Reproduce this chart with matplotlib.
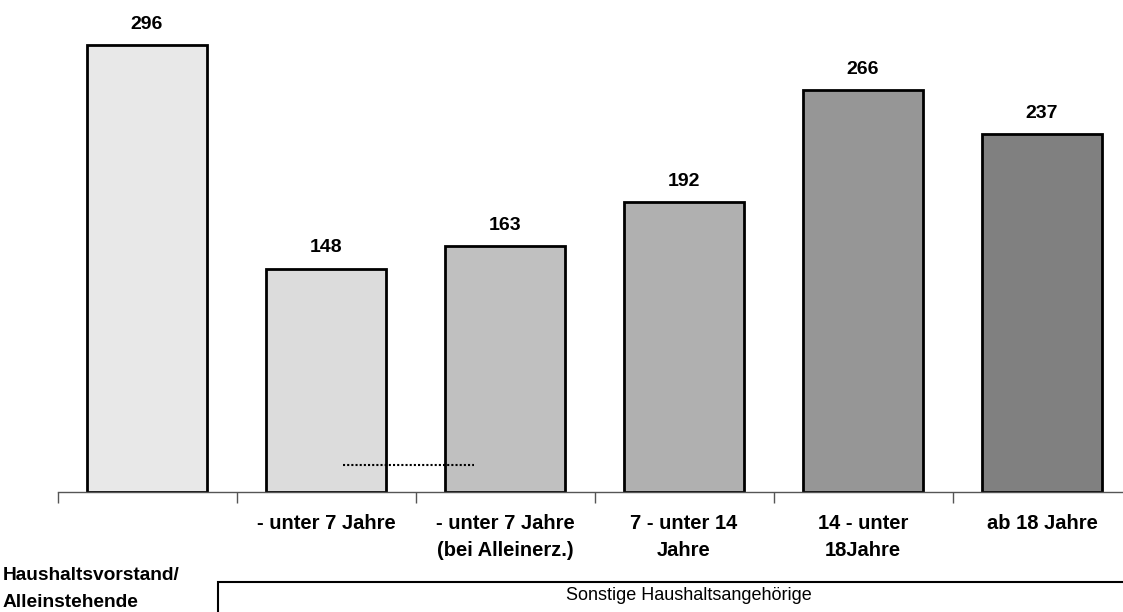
import matplotlib
matplotlib.use("Agg")
import matplotlib.pyplot as plt
from matplotlib.patches import Rectangle

plt.rcParams['font.family'] = ['Liberation Sans', 'DejaVu Sans']

# Bedarf je Haushaltsmitglied
categories = ["", "- unter 7 Jahre", "- unter 7 Jahre\n(bei Alleinerz.)",
              "7 - unter 14\nJahre", "14 - unter\n18Jahre", "ab 18 Jahre"]
values = [296, 148, 163, 192, 266, 237]
bar_colors = ["#E8E8E8", "#DCDCDC", "#C0C0C0", "#B0B0B0", "#969696", "#808080"]

W, H = 1123, 612
fig = plt.figure(figsize=(W / 100, H / 100), dpi=100)

# axes spans from x=57.5 px to past the right edge, baseline at y=492 px
ax = fig.add_axes([57.5 / W, (H - 492) / H, 1074 / W, 492 / H])
x = range(len(values))
ax.bar(x, values, width=120 / 179, color=bar_colors, edgecolor="black", linewidth=2, zorder=2)
ax.set_xlim(-0.5, len(values) - 0.5)
ax.set_ylim(0, 492 / 1.51)

for xi, v in zip(x, values):
    ax.text(xi, v + 8, str(v), ha="center", va="bottom", fontsize=14, fontweight="bold")

# dotted reference line between the two "unter 7 Jahre" bars
ax.plot([1.095, 1.827], [18, 18], linestyle=(0, (1, 1)), color="black", linewidth=1.5, zorder=3)

for s in ["left", "top", "right"]:
    ax.spines[s].set_visible(False)
ax.spines["bottom"].set_color("#555555")
ax.spines["bottom"].set_linewidth(1)
ax.set_yticks([])

ax.set_xticks(list(x))
ax.set_xticklabels(categories, fontsize=14.5, fontweight="bold", linespacing=1.5)
ax.tick_params(axis="x", which="major", length=0, pad=16)
ax.set_xticks([i - 0.5 for i in range(len(values) + 1)], minor=True)
ax.tick_params(axis="x", which="minor", length=8, width=1, color="#555555", direction="out")

fig.text(3 / W, 1 - 589 / H, "Haushaltsvorstand/\nAlleinstehende", ha="left", va="center",
         fontsize=13.8, fontweight="bold", linespacing=1.75)

fig.patches.append(Rectangle((218 / W, -0.05), 920 / W, (612 - 582) / H + 0.05,
                             transform=fig.transFigure, fill=False, edgecolor="black",
                             linewidth=1.5))
fig.text(689 / W, 1 - 596 / H, "Sonstige Haushaltsangehörige", ha="center", va="center",
         fontsize=13)

fig.savefig("out.png", dpi=100)
